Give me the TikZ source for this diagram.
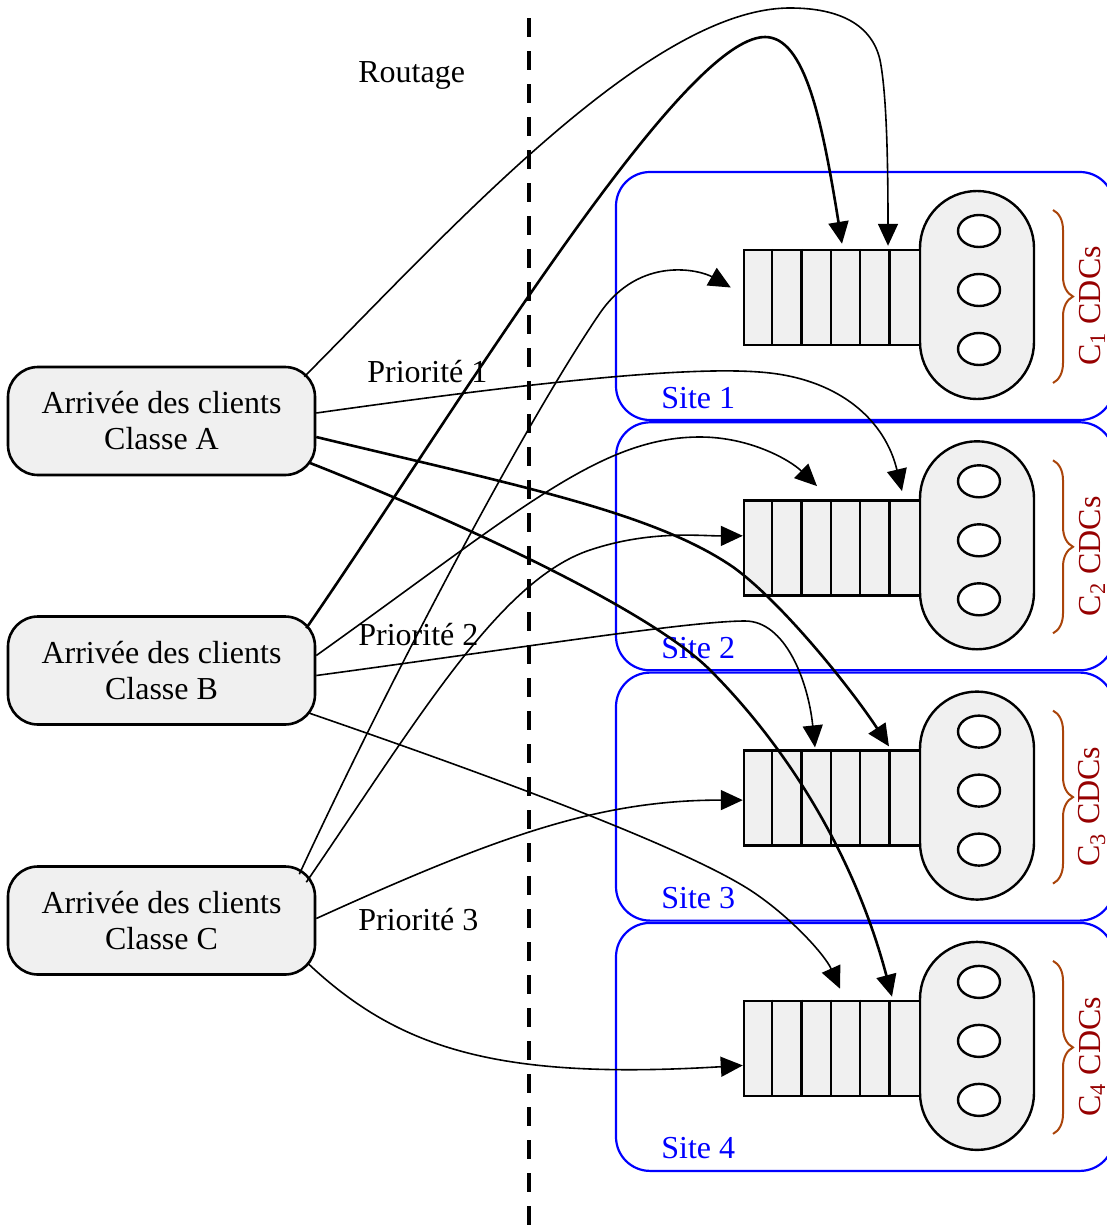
\documentclass[tikz,border=0pt]{standalone}
\usepackage{fontspec}
\setmainfont{Liberation Serif}
\usetikzlibrary{arrows.meta,decorations.pathreplacing,shapes.geometric}
\definecolor{gfill}{RGB}{240,240,240}
\definecolor{bracecol}{RGB}{170,68,10}
\definecolor{cdccol}{RGB}{150,0,0}
\begin{document}
\begin{tikzpicture}[x=0.5pt,y=-0.5pt,
  txt/.style={font=\fontsize{16}{18}\selectfont, inner sep=0pt},
  classbox/.style={txt, draw, line width=1.3pt, fill=gfill, rounded corners=15pt,
    minimum width=153.5pt, minimum height=54pt, align=center},
  sitebox/.style={draw=blue, line width=1.1pt, rounded corners=17pt,
    minimum width=249pt, minimum height=124pt, inner sep=0pt},
  queuebox/.style={draw, fill=gfill, line width=1.2pt, minimum width=88pt,
    minimum height=47.5pt, inner sep=0pt},
  server/.style={draw, fill=gfill, line width=1.2pt, rounded corners=28.5pt,
    minimum width=57pt, minimum height=104pt, inner sep=0pt},
  slot/.style={ellipse, draw, fill=white, line width=1.2pt, minimum width=21pt,
    minimum height=16pt, inner sep=0pt},
  arr/.style={-{Triangle[length=11pt,width=10pt]}, line width=0.8pt},
  tarr/.style={arr, line width=1.3pt}
]
\useasboundingbox (0,0) rectangle (1107,1232);
\clip (0,0) rectangle (1107,1232);

% dashed separation
\draw[line width=2.25pt, dash pattern=on 9.5pt off 7pt] (529,18) -- (529,1240);

% labels
\node[txt, anchor=base west] (rout) at (358,82) {Routage};
\node[txt, anchor=base west] (p1) at (367,382) {Priorité 1};
\node[txt, anchor=base west] (p2) at (358,645) {Priorité 2};
\node[txt, anchor=base west] (p3) at (358,930) {Priorité 3};

% sources
\node[classbox] (A) at (161.5,421) {Arrivée des clients\\Classe A};
\node[classbox] (B) at (161.5,670.5) {Arrivée des clients\\Classe B};
\node[classbox] (C) at (161.5,920.5) {Arrivée des clients\\Classe C};

% sites
\foreach \i in {1,2,3,4}{
  \pgfmathsetmacro\off{(\i-1)*250.3}
  \node[sitebox] (site\i) at (865,296+\off) {};
  \node[txt, anchor=base west, text=blue] (sl\i) at (661,408+\off) {Site \i};
  \node[server] (s\i) at (977,295+\off) {};
  \node[queuebox] (q\i) at (832,297.5+\off) {};
  \foreach \k in {1,...,5}{
    \draw[line width=1.2pt] ([xshift=\k*14.667pt]q\i.north west) -- ([xshift=\k*14.667pt]q\i.south west);
  }
  \node[slot] (c\i a) at (979,231+\off) {};
  \node[slot] (c\i b) at (979,290+\off) {};
  \node[slot] (c\i c) at (979,349+\off) {};
  \draw[bracecol, line width=1pt, decorate, decoration={brace, amplitude=10pt}]
    (1053,210+\off) -- (1053,383+\off);
  \node[txt, rotate=90, text=cdccol] (cdc\i) at (1092,306+\off) {C\textsubscript{\i} CDCs};
}

% class A
\draw[arr] ([shift={(-12,11)}]A.north east) .. controls (450,230) and (650,8) .. (790,8)
  .. controls (840,8) and (872,25) .. (880,60) .. controls (886,90) and (888,150) .. ([shift={(56,-3)}]q1.north);
\draw[arr] ([shift={(0,-8)}]A.east) .. controls (550,380) and (700,365) .. (770,373)
  .. controls (840,381) and (885,420) .. ([shift={(70,-8)}]q2.north);
\draw[tarr] ([shift={(0,16)}]A.east) .. controls (515,485) and (653,512) .. (733,567)
  .. controls (783,603) and (852,690) .. ([shift={(57,-3)}]q3.north);
\draw[tarr] ([shift={(-8,-14)}]A.south east) .. controls (460,522) and (650,610) .. (710,670)
  .. controls (780,740) and (852,846) .. ([shift={(60,-3)}]q4.north);

% class B
\draw[tarr] ([shift={(-10,13)}]B.north east) .. controls (450,420) and (680,37) .. (765,37)
  .. controls (805,37) and (822,120) .. ([shift={(10,-5)}]q1.north);
\draw[arr] ([shift={(0,-15)}]B.east) .. controls (520,510) and (600,437) .. (700,437)
  .. controls (750,437) and (790,460) .. ([shift={(-15,-13)}]q2.north);
\draw[arr] ([shift={(0,5)}]B.east) .. controls (520,648) and (690,621) .. (745,621)
  .. controls (785,621) and (808,680) .. ([shift={(-17,-2)}]q3.north);
\draw[arr] ([shift={(-8,-13)}]B.south east) .. controls (480,772) and (680,845) .. (750,890)
  .. controls (790,916) and (825,955) .. ([shift={(8,-11)}]q4.north);

% class C
\draw[arr] ([shift={(-17,9)}]C.north east) .. controls (380,700) and (520,430) .. (600,313)
  .. controls (640,255) and (700,270) .. ([shift={(-12,-10)}]q1.west);
\draw[arr] ([shift={(-10,17)}]C.north east) .. controls (420,716) and (500,580) .. (590,550)
  .. controls (650,530) and (700,536) .. ([shift={(0,-12)}]q2.west);
\draw[arr] ([shift={(0,-2)}]C.east) .. controls (500,835) and (600,800) .. ([shift={(0,2)}]q3.west);
\draw[arr] ([shift={(-8,-12)}]C.south east) .. controls (400,1050) and (500,1080) .. ([shift={(0,17)}]q4.west);
\end{tikzpicture}
\end{document}
